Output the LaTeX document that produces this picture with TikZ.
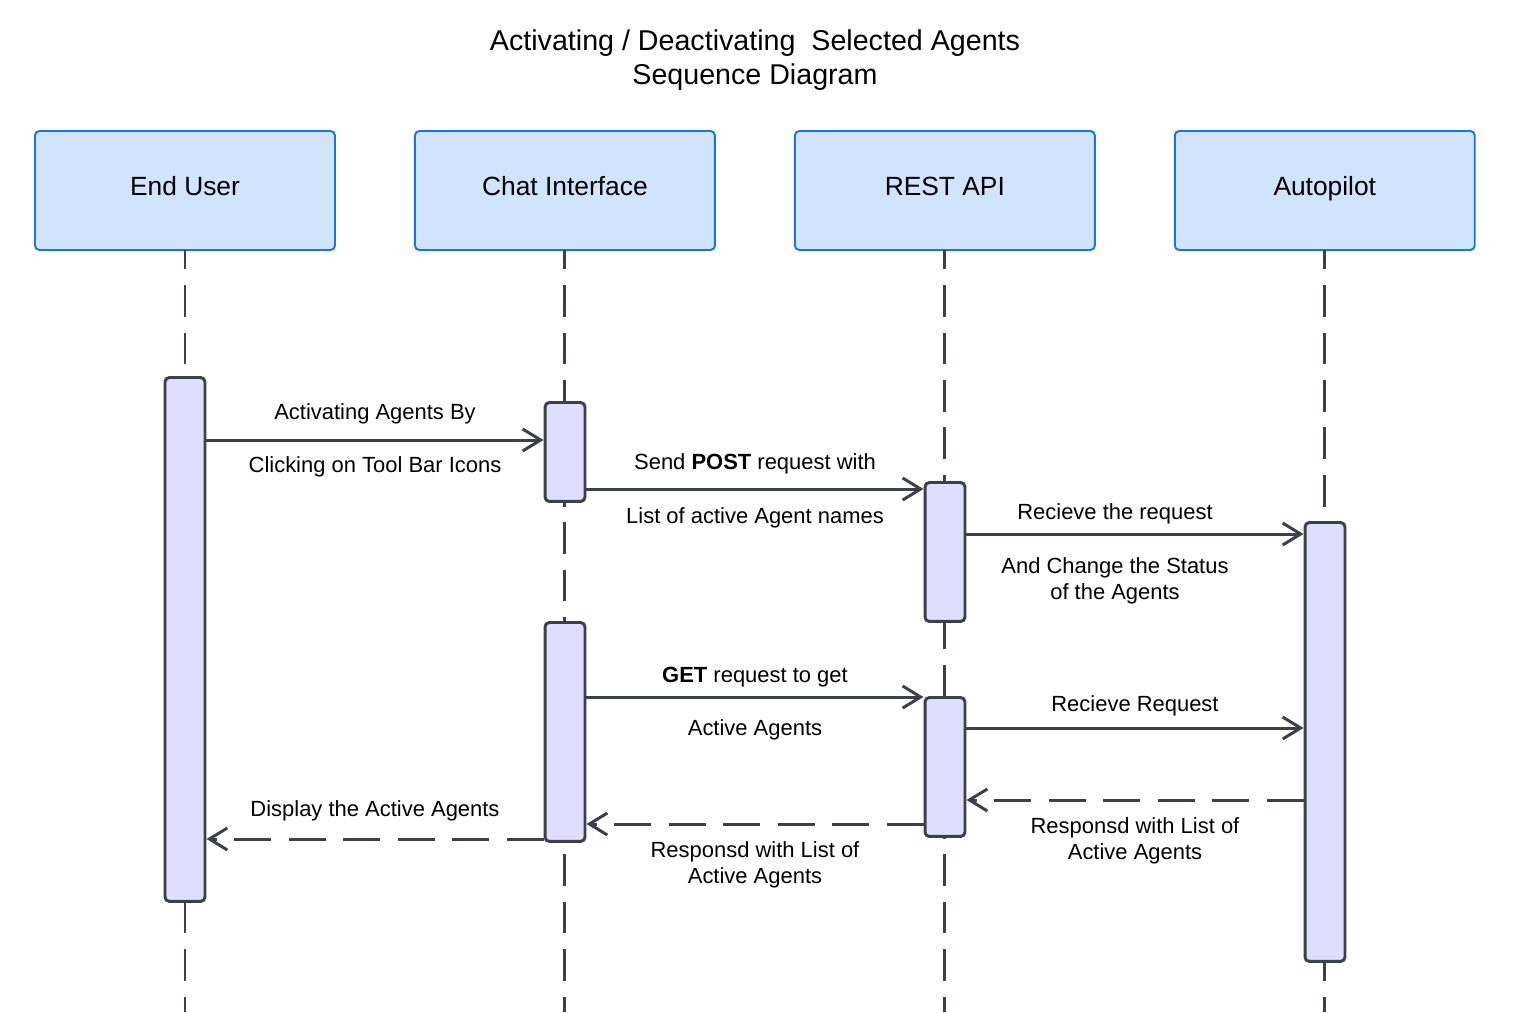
\documentclass[tikz,border=0pt]{standalone}
\usepackage{fontspec}
\setmainfont{Liberation Sans}
\usetikzlibrary{positioning}
\usetikzlibrary{arrows.meta}
\definecolor{actorfill}{HTML}{D0E4FE}
\definecolor{actordraw}{HTML}{1B74E4}
\definecolor{barfill}{HTML}{DEDEFF}
\definecolor{inkgray}{HTML}{3A414A}
\tikzstyle{actor} = [draw=actordraw, fill=actorfill, line width=1.1pt,
rounded corners=2.5pt, minimum width=6cm, minimum height=2.38cm, outer sep=0pt,
text height=9.2pt, text depth=3pt, font=\fontsize{15}{18}\selectfont]
\tikzstyle{lifeline} = [draw=inkgray, line width=1.7pt,
dash pattern=on 18pt off 9pt, dash phase=7pt]
\tikzstyle{activation} = [draw=inkgray, fill=barfill, line width=1.7pt,
rounded corners=2.5pt, minimum width=0.8cm, inner sep=0pt, anchor=north]
\tikzstyle{message} = [draw=inkgray, line width=1.7pt,
-{Straight Barb[length=0.36cm,width=0.44cm]}]
\tikzstyle{reply} = [message, dash pattern=on 21pt off 10pt]
\tikzstyle{msglabel} = [midway, align=center, text=black,
font=\fontsize{12.5}{14.7}\selectfont]

\begin{document}
\begin{tikzpicture}[x=0.02cm, y=-0.02cm]
  \useasboundingbox (0,0) rectangle (1516,1012);
  \node[align=center, font=\fontsize{16.3}{19.3}\selectfont] (title) at (755,60)
    {Activating / Deactivating\ \ Selected Agents\\Sequence Diagram};

  % participants
  \node[actor] (eu) at (185,190.5) {End User};
  \node[actor, right=1.6cm of eu] (ci) {Chat Interface};
  \node[actor, right=1.6cm of ci] (ra) {REST API};
  \node[actor, right=1.6cm of ra] (ap) {Autopilot};

  % lifelines
  \coordinate (floor) at (0,1012);
  \draw[lifeline] (eu.south) -- (eu.south |- floor);
  \draw[lifeline] (ci.south) -- (ci.south |- floor);
  \draw[lifeline] (ra.south) -- (ra.south |- floor);
  \draw[lifeline] (ap.south) -- (ap.south |- floor);

  % activations
  \node[activation, minimum height=10.48cm] (euact) at (185,376) {};
  \node[activation, minimum height=1.98cm] (ciact1) at (565,401) {};
  \node[activation, minimum height=2.78cm] (raact1) at (945,481) {};
  \node[activation, minimum height=8.78cm] (apact) at (1325,521) {};
  \node[activation, minimum height=4.38cm] (ciact2) at (565,621) {};
  \node[activation, minimum height=2.78cm] (raact2) at (945,696) {};

  % messages
  \coordinate (m1) at (0,440);
  \coordinate (m2) at (0,489);
  \coordinate (m3) at (0,534);
  \coordinate (m4) at (0,697);
  \coordinate (m5) at (0,728);
  \coordinate (m6) at (0,800);
  \coordinate (m7) at (0,824);
  \coordinate (m8) at (0,839);
  \draw[message] (euact.east |- m1) -- (ciact1.west |- m1)
    node[msglabel, yshift=0.52cm] {Activating Agents By}
    node[msglabel, yshift=-0.54cm] {Clicking on Tool Bar Icons};
  \draw[message] (ciact1.east |- m2) -- (raact1.west |- m2)
    node[msglabel, yshift=0.5cm] {Send \textbf{POST} request with}
    node[msglabel, yshift=-0.58cm] {List of active Agent names};
  \draw[message] (raact1.east |- m3) -- (apact.west |- m3)
    node[msglabel, xshift=-0.4cm, yshift=0.4cm] {Recieve the request}
    node[msglabel, xshift=-0.4cm, yshift=-0.94cm] {And Change the Status\\of the Agents};
  \draw[message] (ciact2.east |- m4) -- (raact2.west |- m4)
    node[msglabel, yshift=0.4cm] {\textbf{GET} request to get}
    node[msglabel, yshift=-0.66cm] {Active Agents};
  \draw[message] (raact2.east |- m5) -- (apact.west |- m5)
    node[msglabel, yshift=0.44cm] {Recieve Request};
  \draw[reply] (apact.west |- m6) -- (raact2.east |- m6)
    node[msglabel, yshift=-0.82cm] {Responsd with List of\\Active Agents};
  \draw[reply] (raact2.west |- m7) -- (ciact2.east |- m7)
    node[msglabel, yshift=-0.82cm] {Responsd with List of\\Active Agents};
  \draw[reply] (ciact2.west |- m8) -- (euact.east |- m8)
    node[msglabel, yshift=0.56cm] {Display the Active Agents};
\end{tikzpicture}
\end{document}
